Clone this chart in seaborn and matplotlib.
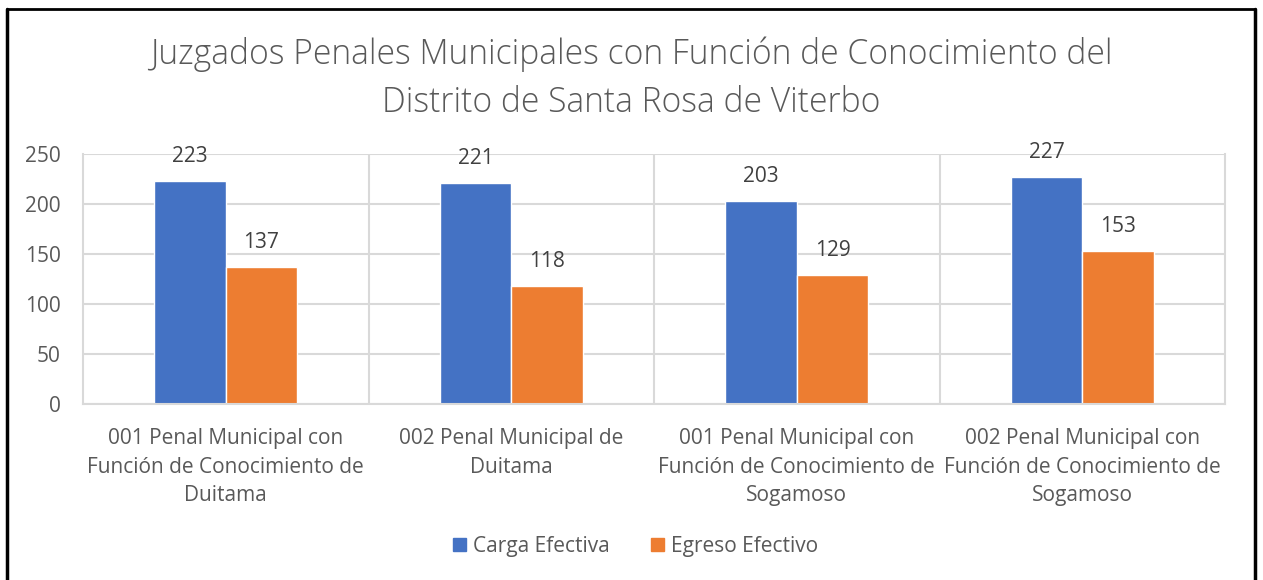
import matplotlib
matplotlib.use("Agg")
import matplotlib.pyplot as plt
import seaborn as sns
import pandas as pd
from matplotlib.patches import Rectangle
from matplotlib.lines import Line2D

categories = [
    "001 Penal Municipal con\nFunción de Conocimiento de\nDuitama",
    "002 Penal Municipal de\nDuitama",
    "001 Penal Municipal con\nFunción de Conocimiento de\nSogamoso",
    "002 Penal Municipal con\nFunción de Conocimiento de\nSogamoso",
]
carga_efectiva = [223, 221, 203, 227]
egreso_efectivo = [137, 118, 129, 153]
series_names = ["Carga Efectiva", "Egreso Efectivo"]
y_ticks = [0, 50, 100, 150, 200, 250]
title = "Juzgados Penales Municipales con Función de Conocimiento del\nDistrito de Santa Rosa de Viterbo"

colors = ["#4472C4", "#ED7D31"]
text_color = "#595959"
grid_color = "#D9D9D9"

df = pd.DataFrame({
    "categoria": categories * 2,
    "serie": [series_names[0]] * len(categories) + [series_names[1]] * len(categories),
    "valor": carga_efectiva + egreso_efectivo,
})

sns.set_theme(style="white")
plt.rcParams["font.family"] = ["Open Sans", "DejaVu Sans"]

fig = plt.figure(figsize=(12.63, 5.8), dpi=100)
ax = fig.add_axes([0.0657, 0.3034, 0.9043, 0.4311])

sns.barplot(data=df, x="categoria", y="valor", hue="serie", order=categories,
            hue_order=series_names, palette=colors, width=0.5, gap=0,
            saturation=1, ax=ax, legend=False)

ax.set_ylim(0, 250)
ax.set_xlim(-0.5, len(categories) - 0.5)
ax.set_yticks(y_ticks)
ax.set_xlabel("")
ax.set_ylabel("")

ax.yaxis.grid(True, color=grid_color, linewidth=1.5)
ax.set_axisbelow(True)
for i in range(1, len(categories)):
    ax.axvline(i - 0.5, color=grid_color, linewidth=1.5, zorder=0)
for side in ["left", "right", "bottom", "top"]:
    ax.spines[side].set_visible(side in ("left", "right", "bottom"))
    ax.spines[side].set_color(grid_color)
    ax.spines[side].set_linewidth(1.5)
ax.tick_params(axis="y", length=0, labelsize=15, labelcolor=text_color, pad=16)
ax.tick_params(axis="x", length=0, labelsize=15, labelcolor=text_color, pad=17.5)
for lbl in ax.get_xticklabels():
    lbl.set_linespacing(1.45)

for cont in ax.containers:
    ax.bar_label(cont, padding=10, fontsize=15, color="#404040")

fig.text(0.5, 0.865, title, ha="center", va="center", fontsize=24.2,
         color=text_color, linespacing=1.5, fontweight="light")

handles = [Rectangle((0, 0), 1, 1, color=c) for c in colors]
fig.legend(handles, series_names, loc="center", bbox_to_anchor=(0.503, 0.058),
           ncol=2, frameon=False, fontsize=15, labelcolor=text_color,
           handlelength=0.65, handleheight=0.65, handletextpad=0.3,
           columnspacing=2.0)

# chart frame
fig.add_artist(Line2D([0.0055, 0.0055], [0, 0.985], transform=fig.transFigure, color="black", lw=2.5))
fig.add_artist(Line2D([0.0055, 0.9937], [0.985, 0.985], transform=fig.transFigure, color="black", lw=2))
fig.add_artist(Line2D([0.9937, 0.9937], [0, 0.985], transform=fig.transFigure, color="black", lw=2.5))

fig.savefig("out.png", dpi=100)
